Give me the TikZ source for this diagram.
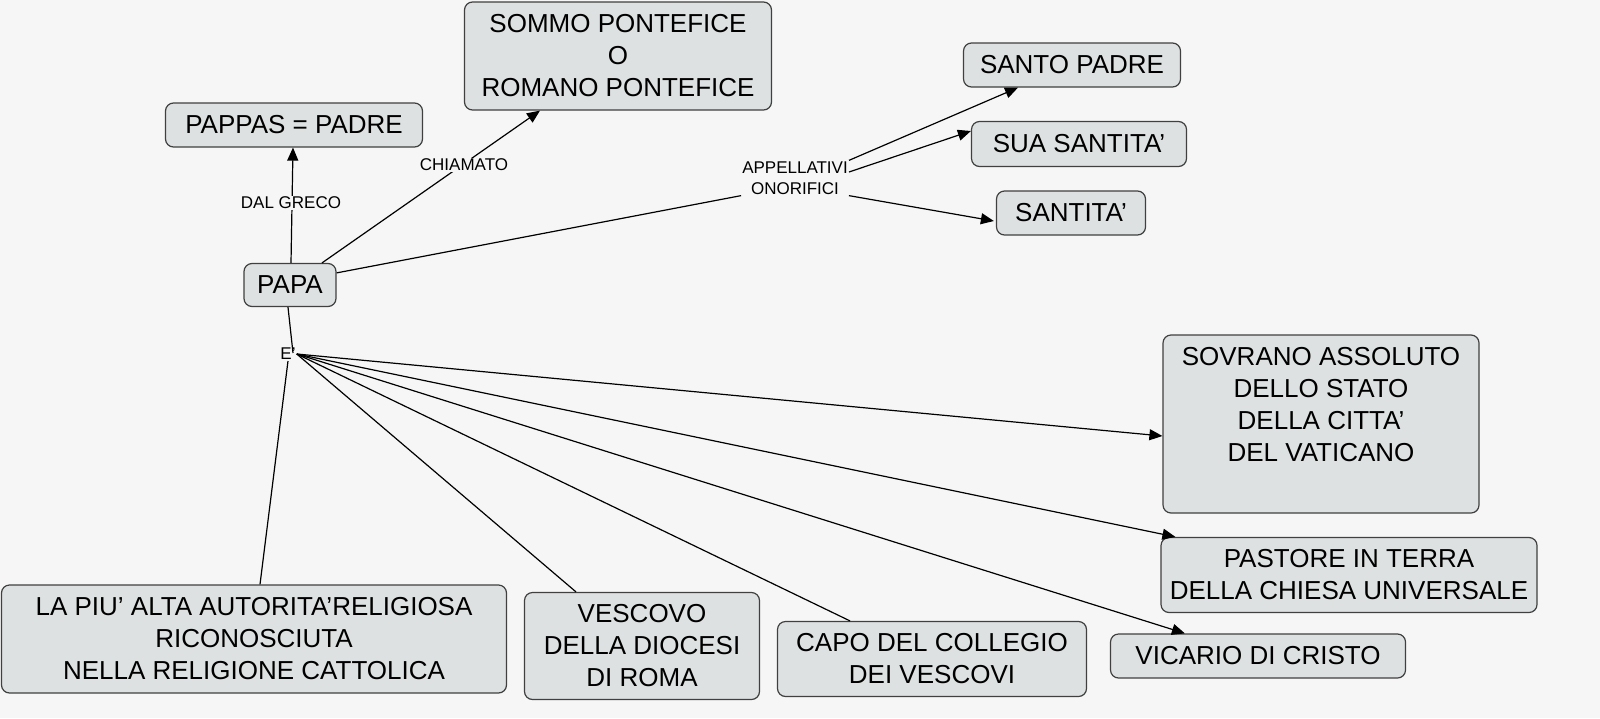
\documentclass[tikz,border=0pt]{standalone}
\usepackage{fontspec}
\setmainfont{Liberation Sans}[Ligatures=ResetAll]
\usetikzlibrary{arrows.meta}
\newcommand\ap{'}
\definecolor{bg}{HTML}{F6F6F6}
\definecolor{boxf}{HTML}{DDE1E1}
\definecolor{boxd}{HTML}{404040}
\tikzset{
 box/.style={draw=boxd,fill=boxf,rounded corners=8pt,line width=1.2pt,align=center,inner sep=0pt,font=\fontsize{26}{32}\selectfont},
 lab/.style={align=center,font=\fontsize{17}{21}\selectfont,inner sep=1pt,fill=bg},
 con/.style={line width=1.2pt,draw=black},
 arr/.style={con,-{Triangle[length=13pt,width=11pt]}}
}
\begin{document}
\begin{tikzpicture}[x=1pt,y=-1pt]
\fill[bg] (0,0) rectangle (1600,718);
\useasboundingbox (0,0) rectangle (1600,718);
\node[box,minimum width=307,minimum height=108] (sommo) at (618,56) {SOMMO PONTEFICE\\O\\ROMANO PONTEFICE};
\node[box,minimum width=257,minimum height=44] (pappas) at (294,125) {PAPPAS = PADRE};
\node[box,minimum width=217,minimum height=44] (santo) at (1072,65) {SANTO PADRE};
\node[box,minimum width=215,minimum height=45] (sua) at (1079,144) {SUA SANTITA\ap};
\node[box,minimum width=149,minimum height=44] (santita) at (1071,213) {SANTITA\ap};
\node[box,minimum width=92,minimum height=43] (papa) at (290,285) {PAPA};
\node[box,minimum width=316,minimum height=178] (sovrano) at (1321,424) {};
\node[align=center,font=\fontsize{26}{32}\selectfont] (sovtext) at (1321,405) {SOVRANO ASSOLUTO\\DELLO STATO\\DELLA CITTA\ap\\DEL VATICANO};
\node[box,minimum width=376,minimum height=75] (pastore) at (1349,575) {PASTORE IN TERRA\\DELLA CHIESA UNIVERSALE};
\node[box,minimum width=295,minimum height=44] (vicario) at (1258,656) {VICARIO DI CRISTO};
\node[box,minimum width=505,minimum height=108] (piu) at (254,639) {LA PIU\ap{} ALTA AUTORITA\ap RELIGIOSA\\RICONOSCIUTA\\NELLA RELIGIONE CATTOLICA};
\node[box,minimum width=235,minimum height=107] (vescovo) at (642,646) {VESCOVO\\DELLA DIOCESI\\DI ROMA};
\node[box,minimum width=309,minimum height=75] (capo) at (932,659) {CAPO DEL COLLEGIO\\DEI VESCOVI};

\coordinate (ept) at (293,353);
\draw[arr] ([xshift=1]papa.north) -- ([xshift=-1]pappas.south);
\draw[arr] ([xshift=32]papa.north) -- ([xshift=-78]sommo.south);
\draw[con] ([xshift=-2]papa.south) -- (ept);
\node[lab] (dal) at (291,203) {DAL GRECO};
\node[lab] (chiam) at (464,165) {CHIAMATO};
\node[lab] (app) at (795,178) {APPELLATIVI\\ONORIFICI};
\node[lab,fill=none] (e) at (288,354) {E\ap};

\draw[con] (papa.north east)++(0,10) -- (app.south west);
\draw[arr] (app.north east) -- ([xshift=-54]santo.south);
\draw[arr] (app.east) ++(0,-6) -- ([yshift=13]sua.west);
\draw[arr] (app.south east) -- ([xshift=-2,yshift=-8]santita.west);
\draw[arr] (e.east) -- ([yshift=-12]sovrano.west);
\draw[arr] (e.east) -- ([xshift=15]pastore.north west);
\draw[arr] (e.east) -- ([xshift=75]vicario.north west);
\draw[con] (e.south) -- ([xshift=6]piu.north);
\draw[con] (e.east) -- ([xshift=-66]vescovo.north);
\draw[con] (e.east) -- ([xshift=-82]capo.north);
\end{tikzpicture}
\end{document}
